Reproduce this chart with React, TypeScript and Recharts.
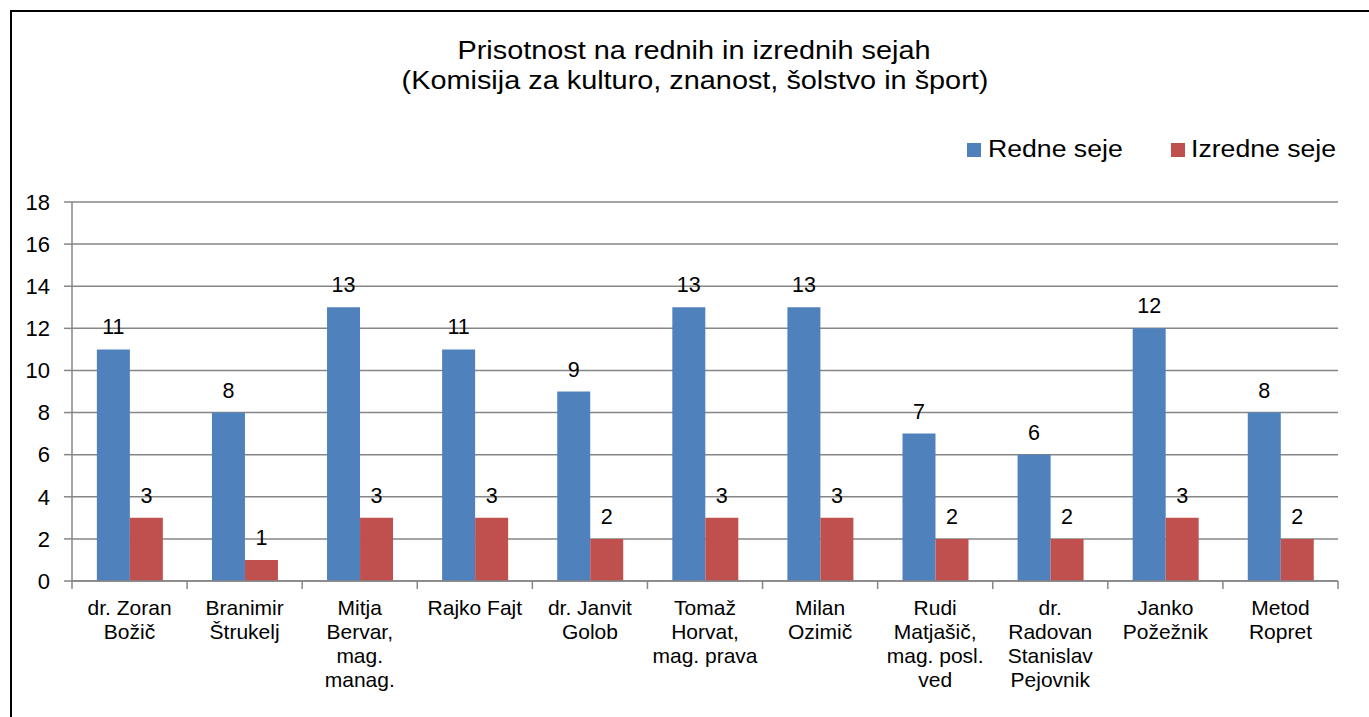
import React from 'react';
import { BarChart, Bar, XAxis, YAxis, CartesianGrid, LabelList, Legend } from 'recharts';

const categories = [
  'dr. Zoran\nBožič',
  'Branimir\nŠtrukelj',
  'Mitja\nBervar,\nmag.\nmanag.',
  'Rajko Fajt',
  'dr. Janvit\nGolob',
  'Tomaž\nHorvat,\nmag. prava',
  'Milan\nOzimič',
  'Rudi\nMatjašič,\nmag. posl.\nved',
  'dr.\nRadovan\nStanislav\nPejovnik',
  'Janko\nPožežnik',
  'Metod\nRopret',
];
const redneSeje = [11, 8, 13, 11, 9, 13, 13, 7, 6, 12, 8];
const izredneSeje = [3, 1, 3, 3, 2, 3, 3, 2, 2, 3, 2];
const yTicks = [0, 2, 4, 6, 8, 10, 12, 14, 16, 18];
const seriesNames = ['Redne seje', 'Izredne seje'];
const seriesColors = ['#4F81BD', '#C0504D'];
const titleLines = ['Prisotnost na rednih in izrednih sejah', '(Komisija za kulturo, znanost, šolstvo in šport)'];

const data = categories.map((name, i) => ({
  name,
  redne: redneSeje[i],
  izredne: izredneSeje[i],
}));

const FONT = '"Liberation Sans", Arial, sans-serif';
const AXIS = '#868686';
const W = 1369;
const H = 717;
const MARGIN = { top: 202, right: 31, bottom: 0, left: 0 };
const Y_WIDTH = 72;
const X_HEIGHT = 136;
const SX = 1.11;

const CategoryTick = (props: any) => {
  const { x, y, payload, index } = props;
  const plotW = W - MARGIN.right - Y_WIDTH;
  const half = payload && typeof payload.offset === 'number' && payload.offset > 0 ? payload.offset : plotW / categories.length / 2;
  const lines = String(payload.value).split('\n');
  return (
    <g>
      <line x1={x - half} x2={x - half} y1={y - 8} y2={y} stroke={AXIS} strokeWidth={1.5} />
      {index === categories.length - 1 && (
        <line x1={x + half} x2={x + half} y1={y - 8} y2={y} stroke={AXIS} strokeWidth={1.5} />
      )}
      <text x={x} y={y + 26} textAnchor="middle" fontFamily={FONT} fontSize={21} fill="#000">
        {lines.map((l, i) => (
          <tspan key={i} x={x} dy={i === 0 ? 0 : 24}>{l}</tspan>
        ))}
      </text>
    </g>
  );
};

const legendPos = [
  { sq: 967, tx: 988 },
  { sq: 1171, tx: 1191 },
];

const LegendContent = () => (
  <svg width={W} height={200} style={{ display: 'block' }}>
    {seriesNames.map((n, i) => (
      <g key={n}>
        <rect x={legendPos[i].sq} y={143} width={14} height={14} fill={seriesColors[i]} />
        <text transform={`translate(${legendPos[i].tx},157) scale(${SX},1)`} x={0} y={0} fontFamily={FONT} fontSize={24} fill="#000">
          {n}
        </text>
      </g>
    ))}
  </svg>
);

export default function App() {
  return (
    <div style={{ position: 'absolute', left: 0, top: 0, width: W, height: H, overflow: 'hidden', background: '#fff' }}>
      <div style={{ position: 'absolute', left: 10, top: 10, width: W + 50, height: H + 50, borderLeft: '2px solid #000', borderTop: '2px solid #000', boxSizing: 'border-box' }} />
      <svg width={W} height={120} style={{ position: 'absolute', left: 0, top: 0 }}>
        <text transform={`translate(694,58.5) scale(${SX},1)`} textAnchor="middle" fontFamily={FONT} fontSize={26} fill="#000">
          {titleLines[0]}
        </text>
        <text transform={`translate(695,88.5) scale(${SX},1)`} textAnchor="middle" fontFamily={FONT} fontSize={26} fill="#000">
          {titleLines[1]}
        </text>
      </svg>
      <div style={{ position: 'absolute', left: 0, top: 0 }}>
        <BarChart width={W} height={H} data={data} margin={MARGIN} barCategoryGap="21.6%" barGap={0}>
          <CartesianGrid vertical={false} stroke={AXIS} strokeWidth={1.5} />
          <XAxis
            dataKey="name"
            height={X_HEIGHT}
            axisLine={{ stroke: AXIS, strokeWidth: 1.5 }}
            tickLine={false}
            tickSize={8}
            tickMargin={0}
            interval={0}
            tick={<CategoryTick />}
          />
          <YAxis
            width={Y_WIDTH}
            domain={[0, 18]}
            ticks={yTicks}
            interval={0}
            axisLine={{ stroke: AXIS, strokeWidth: 1.5 }}
            tickLine={{ stroke: AXIS, strokeWidth: 1.5 }}
            tickSize={8}
            tickMargin={14}
            tick={{ fill: '#000', fontSize: 22, fontFamily: FONT }}
          />
          <Legend
            layout="horizontal"
            verticalAlign="middle"
            align="center"
            wrapperStyle={{ left: 0, top: 0, width: W, height: 200, pointerEvents: 'none' }}
            content={<LegendContent />}
          />
          <Bar dataKey="redne" name={seriesNames[0]} fill={seriesColors[0]} isAnimationActive={false}>
            <LabelList dataKey="redne" position="top" offset={15} fill="#000" fontSize={21.5} fontFamily={FONT} />
          </Bar>
          <Bar dataKey="izredne" name={seriesNames[1]} fill={seriesColors[1]} isAnimationActive={false}>
            <LabelList dataKey="izredne" position="top" offset={15} fill="#000" fontSize={21.5} fontFamily={FONT} />
          </Bar>
        </BarChart>
      </div>
    </div>
  );
}
